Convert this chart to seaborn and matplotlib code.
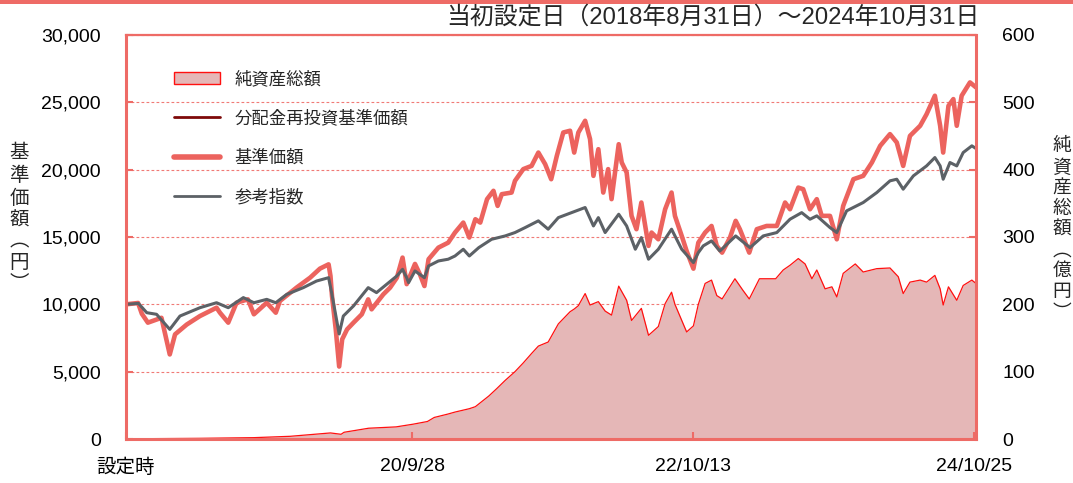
import matplotlib
matplotlib.use("Agg")
import matplotlib.pyplot as plt
from matplotlib.lines import Line2D
from matplotlib.patches import Patch, Rectangle
from matplotlib.ticker import FuncFormatter
import pandas as pd
import seaborn as sns

sns.set_theme(style="white")
plt.rcParams["font.family"] = ["Liberation Sans", "Noto Sans CJK JP"]

# 基準価額 (円)
nav_dates = [
    "2018-08-31", "2018-10-02", "2018-10-12", "2018-10-28", "2018-12-03", "2018-12-25", "2019-01-08", "2019-02-08",
    "2019-03-15", "2019-04-28", "2019-05-07", "2019-05-29", "2019-06-20", "2019-07-20", "2019-08-05", "2019-09-08",
    "2019-10-02", "2019-10-13", "2019-11-26", "2020-01-01", "2020-01-27", "2020-02-19", "2020-02-24", "2020-02-28",
    "2020-03-09", "2020-03-18", "2020-03-26", "2020-04-08", "2020-04-25", "2020-05-17", "2020-06-03", "2020-06-12",
    "2020-07-13", "2020-07-31", "2020-08-18", "2020-09-02", "2020-09-13", "2020-10-05", "2020-10-18", "2020-10-30",
    "2020-11-10", "2020-12-06", "2021-01-01", "2021-01-19", "2021-02-10", "2021-02-26", "2021-03-14", "2021-03-27",
    "2021-04-14", "2021-05-01", "2021-05-12", "2021-05-23", "2021-06-18", "2021-06-27", "2021-07-19", "2021-08-10",
    "2021-08-28", "2021-09-15", "2021-10-01", "2021-10-16", "2021-11-02", "2021-11-20", "2021-12-01", "2021-12-12",
    "2021-12-30", "2022-01-12", "2022-01-21", "2022-02-03", "2022-02-16", "2022-03-01", "2022-03-10", "2022-03-29",
    "2022-04-06", "2022-04-19", "2022-05-02", "2022-05-15", "2022-05-28", "2022-06-16", "2022-06-24", "2022-07-12",
    "2022-07-30", "2022-08-16", "2022-08-25", "2022-09-12", "2022-09-25", "2022-10-13", "2022-10-26", "2022-11-13",
    "2022-11-30", "2022-12-14", "2022-12-28", "2023-01-18", "2023-02-02", "2023-02-13", "2023-03-10", "2023-03-30",
    "2023-04-25", "2023-05-22", "2023-06-13", "2023-06-26", "2023-07-18", "2023-07-31", "2023-08-18", "2023-09-05",
    "2023-09-18", "2023-10-10", "2023-10-28", "2023-11-14", "2023-12-11", "2024-01-06", "2024-01-29", "2024-02-20",
    "2024-03-17", "2024-04-04", "2024-04-21", "2024-05-09", "2024-06-05", "2024-06-22", "2024-07-14", "2024-07-28",
    "2024-08-05", "2024-08-19", "2024-09-01", "2024-09-10", "2024-09-23", "2024-10-15", "2024-10-31",
]
nav_values = [
    10000, 10100, 9300, 8640, 9000, 6280, 7770, 8500,
    9130, 9750, 9380, 8640, 10120, 10370, 9260, 10120,
    9380, 10250, 11240, 11980, 12650, 12970, 12100, 10620,
    8140, 5380, 7400, 8140, 8640, 9260, 10370, 9630,
    10740, 11240, 11980, 13470, 11500, 13000, 12230, 11360,
    13350, 14210, 14580, 15330, 16070, 14960, 16320, 16070,
    17810, 18430, 17310, 18180, 18300, 19170, 20040, 20280,
    21270, 20410, 19290, 21030, 22760, 22890, 21270, 22760,
    23630, 22270, 19540, 21520, 18300, 20040, 17810, 21890,
    20530, 19790, 16570, 15580, 17560, 14340, 15330, 14830,
    17060, 18300, 16570, 15080, 13960, 12650, 14580, 15330,
    15820, 14340, 13840, 14960, 16200, 15580, 13840, 15580,
    15820, 15820, 17560, 17060, 18670, 18550, 17060, 17810,
    16570, 16570, 14830, 17310, 19290, 19540, 20530, 21770,
    22640, 22020, 20280, 22510, 23260, 24120, 25490, 23260,
    21270, 24740, 25240, 23260, 25490, 26480, 26110,
]

# 参考指数
idx_dates = [
    "2018-08-31", "2018-10-03", "2018-10-25", "2018-11-20", "2018-12-25", "2019-01-21", "2019-03-15", "2019-04-28",
    "2019-05-29", "2019-07-08", "2019-08-05", "2019-09-08", "2019-10-02", "2019-10-31", "2019-12-14", "2020-01-18",
    "2020-02-19", "2020-02-27", "2020-03-18", "2020-03-29", "2020-04-25", "2020-06-03", "2020-06-25", "2020-07-22",
    "2020-08-18", "2020-09-02", "2020-09-13", "2020-09-18", "2020-10-05", "2020-10-30", "2020-11-10", "2020-12-06",
    "2021-01-01", "2021-01-19", "2021-02-10", "2021-02-26", "2021-03-23", "2021-04-26", "2021-06-01", "2021-06-27",
    "2021-07-24", "2021-08-28", "2021-09-23", "2021-10-20", "2021-11-24", "2021-12-30", "2022-01-21", "2022-02-03",
    "2022-02-21", "2022-03-29", "2022-04-19", "2022-05-12", "2022-05-28", "2022-06-16", "2022-07-12", "2022-08-16",
    "2022-09-12", "2022-10-13", "2022-10-26", "2022-11-08", "2022-11-30", "2022-12-22", "2023-02-02", "2023-03-12",
    "2023-04-16", "2023-05-22", "2023-06-26", "2023-07-27", "2023-08-18", "2023-09-05", "2023-10-10", "2023-10-28",
    "2023-11-23", "2024-01-06", "2024-02-11", "2024-03-17", "2024-04-04", "2024-04-21", "2024-05-18", "2024-06-22",
    "2024-07-14", "2024-07-28", "2024-08-05", "2024-08-23", "2024-09-10", "2024-09-27", "2024-10-20", "2024-10-31",
]
idx_values = [
    10000, 10070, 9380, 9260, 8140, 9130, 9750, 10120,
    9750, 10500, 10120, 10370, 10120, 10740, 11240, 11730,
    11980, 10870, 7800, 9130, 9880, 11240, 10870, 11490,
    12110, 12600, 11980, 11610, 12480, 11980, 12850, 13220,
    13350, 13590, 14090, 13590, 14210, 14830, 15080, 15330,
    15700, 16200, 15580, 16440, 16810, 17190, 15820, 16440,
    15330, 16690, 15820, 14090, 14960, 13350, 14090, 15580,
    14090, 13100, 13840, 14340, 14710, 13960, 15080, 14210,
    15080, 15330, 16320, 16810, 16320, 16570, 15700, 15330,
    16940, 17560, 18300, 19170, 19290, 18550, 19540, 20280,
    20900, 20280, 19290, 20530, 20280, 21270, 21770, 21570,
]

# 純資産総額 (億円)
aum_dates = [
    "2018-08-31", "2019-03-15", "2019-08-05", "2019-11-09", "2019-12-22", "2020-02-24", "2020-03-23", "2020-03-31",
    "2020-06-04", "2020-08-16", "2020-09-30", "2020-11-07", "2020-11-25", "2020-12-31", "2021-01-19", "2021-02-26",
    "2021-03-14", "2021-04-19", "2021-05-10", "2021-06-01", "2021-06-27", "2021-07-19", "2021-08-10", "2021-08-28",
    "2021-09-23", "2021-10-20", "2021-11-20", "2021-12-01", "2021-12-12", "2021-12-30", "2022-01-12", "2022-02-03",
    "2022-02-21", "2022-03-10", "2022-03-29", "2022-04-19", "2022-05-02", "2022-05-28", "2022-06-16", "2022-07-12",
    "2022-07-30", "2022-08-16", "2022-08-25", "2022-09-25", "2022-10-13", "2022-10-26", "2022-11-13", "2022-11-30",
    "2022-12-14", "2022-12-28", "2023-01-31", "2023-02-21", "2023-03-10", "2023-04-06", "2023-05-19", "2023-06-08",
    "2023-06-26", "2023-07-18", "2023-08-05", "2023-08-23", "2023-09-05", "2023-09-27", "2023-10-15", "2023-10-28",
    "2023-11-14", "2023-12-16", "2024-01-06", "2024-02-11", "2024-03-17", "2024-04-08", "2024-04-21", "2024-05-09",
    "2024-06-05", "2024-06-22", "2024-07-14", "2024-07-28", "2024-08-05", "2024-08-19", "2024-09-10", "2024-09-27",
    "2024-10-20", "2024-10-31",
]
aum_values = [
    0.3, 1, 2, 4, 6, 9, 7, 10,
    16, 18, 22, 26, 32, 37, 40, 45,
    48, 64, 75, 87, 100, 113, 127, 138,
    144, 171, 189, 193, 198, 216, 199, 204,
    190, 184, 227, 206, 176, 194, 154, 167,
    201, 218, 200, 159, 168, 200, 231, 236,
    213, 208, 238, 221, 208, 238, 238, 251,
    258, 268, 260, 238, 251, 223, 226, 211,
    246, 260, 248, 253, 254, 241, 216, 233,
    236, 233, 243, 223, 199, 226, 206, 228,
    236, 231,
]

tick_dates = ["2018-08-31", "2020-09-28", "2022-10-13", "2024-10-25"]
tick_labels = ["設定時", "20/9/28", "22/10/13", "24/10/25"]
legend_labels = ["純資産総額", "分配金再投資基準価額", "基準価額", "参考指数"]
title = "当初設定日（2018年8月31日）～2024年10月31日"
left_label = "基準価額︵円︶"
right_label = "純資産総額︵億円︶"

assert len(nav_dates) == len(nav_values)
assert len(idx_dates) == len(idx_values)
assert len(aum_dates) == len(aum_values)

RED = "#EC635E"
FRAME = "#EE6B66"
DARK_RED = "#7E0A0A"
GRAY = "#5C6166"
FILL = "#E5B7B7"
GRID = "#F07A76"

nav = pd.DataFrame({"date": pd.to_datetime(nav_dates), "value": nav_values})
idx = pd.DataFrame({"date": pd.to_datetime(idx_dates), "value": idx_values})
aum = pd.DataFrame({"date": pd.to_datetime(aum_dates), "value": aum_values})

fig = plt.figure(figsize=(10.73, 4.83), dpi=100)
ax = fig.add_axes([126 / 1073, 1 - 439 / 483, 850 / 1073, 404 / 483])
ax2 = ax.twinx()
ax.set_zorder(ax2.get_zorder() + 1)
ax.patch.set_visible(False)

# net assets as filled area on the right axis
ax2.fill_between(aum["date"], aum["value"], color=FILL, lw=0, zorder=2)
sns.lineplot(data=aum, x="date", y="value", ax=ax2, color="#FF1010", lw=0.9,
             estimator=None, zorder=3)
ax2.set_ylim(0, 600)
ax2.set_yticks(range(0, 601, 100))
ax2.yaxis.grid(True, color=GRID, ls=(0, (2.5, 2)), lw=0.8)
ax2.set_axisbelow(True)

# reinvested NAV equals NAV (no distributions), so it sits under the NAV line
sns.lineplot(data=nav, x="date", y="value", ax=ax, color=DARK_RED, lw=1.5, estimator=None)
sns.lineplot(data=nav, x="date", y="value", ax=ax, color=RED, lw=3.3, estimator=None)
sns.lineplot(data=idx, x="date", y="value", ax=ax, color=GRAY, lw=2.2, estimator=None)

ax.set_ylim(0, 30000)
ax.set_yticks(range(0, 30001, 5000))
ax.yaxis.set_major_formatter(FuncFormatter(lambda v, p: f"{int(v):,}"))
ax.set_xlim(pd.Timestamp("2018-08-31"), pd.Timestamp("2024-10-31"))
ax.set_xticks(pd.to_datetime(tick_dates))
ax.set_xticklabels(tick_labels)
ax.set_xlabel("")
ax.set_ylabel("")
ax2.set_ylabel("")

for a in (ax, ax2):
    for s in a.spines.values():
        s.set_visible(False)
for name, s in ax.spines.items():
    s.set_visible(True)
    s.set_color(FRAME)
    s.set_linewidth(2.2 if name != "top" else 1.6)

ax.tick_params(axis="y", direction="in", length=5, width=1.5, color=FRAME,
               pad=18, labelsize=14, labelcolor="black", left=True)
ax.tick_params(axis="x", direction="in", length=5, width=1.5, color=FRAME,
               pad=14, labelsize=14, labelcolor="black", bottom=True)
ax2.tick_params(axis="y", direction="in", length=5, width=1.5, color=FRAME,
                pad=19, labelsize=14, labelcolor="black", right=True)

handles = [
    Patch(facecolor=FILL, edgecolor="#FF1010", lw=1),
    Line2D([], [], color=DARK_RED, lw=2),
    Line2D([], [], color=RED, lw=4),
    Line2D([], [], color=GRAY, lw=2),
]
ax.legend(handles, legend_labels, loc="upper left", bbox_to_anchor=(0.056, 0.913),
          frameon=False, fontsize=12.5, handlelength=2.7, handleheight=0.7,
          handletextpad=0.8, labelspacing=1.32, borderpad=0, borderaxespad=0)

fig.text(980 / 1073, 1 - 17 / 483, title, ha="right", va="center", fontsize=17.2)
fig.text(19 / 1073, 1 - 219 / 483, "\n".join(left_label), ha="center", va="center",
         fontsize=14, linespacing=1.32)
fig.text(1062 / 1073, 1 - 230 / 483, "\n".join(right_label), ha="center", va="center",
         fontsize=13.5, linespacing=1.28)
fig.add_artist(Rectangle((0, 1 - 4 / 483), 1, 4 / 483, transform=fig.transFigure,
                         color=FRAME, lw=0))

fig.savefig("out.png", dpi=100)
